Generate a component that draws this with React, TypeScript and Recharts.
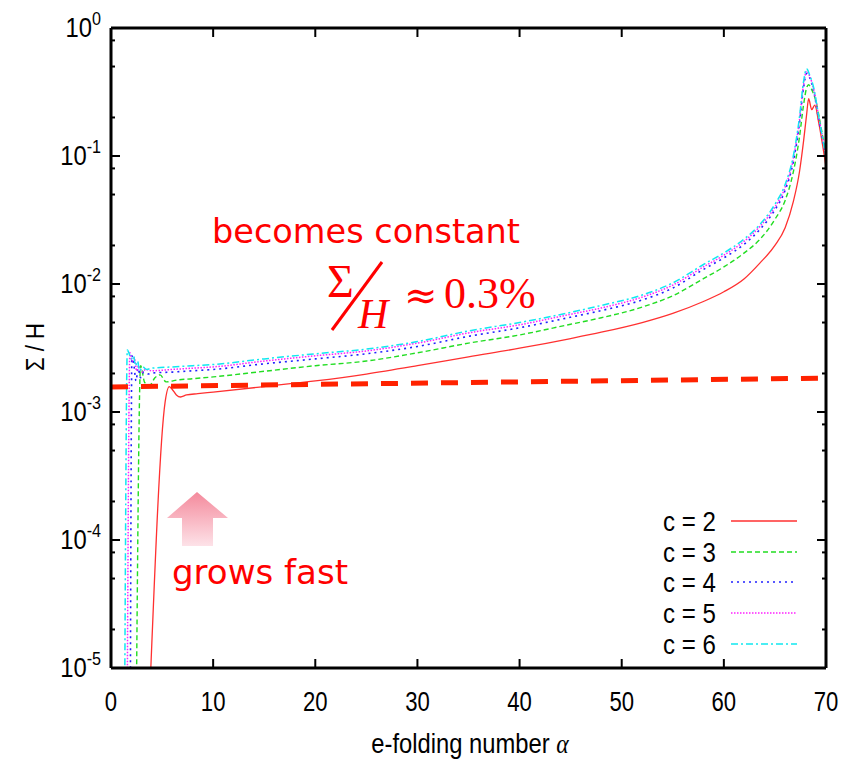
import React from 'react';
import { LineChart, Line, XAxis, YAxis } from 'recharts';

// e-folding number alpha and Sigma/H for each c
const c2Alpha = [3.85, 5.3, 5.7, 6.0, 6.4, 6.8, 7.4, 8.5, 10, 15, 20, 25, 30, 35, 40, 45, 48, 52, 55, 58, 60, 62, 63.5, 65, 66, 66.8, 67.4, 67.8, 68.1, 68.3, 68.6, 68.9, 69.3, 70];
const c2Value = [8e-6, 1.2e-3, 1.58e-3, 1.5e-3, 1.36e-3, 1.31e-3, 1.36e-3, 1.39e-3, 1.43e-3, 1.58e-3, 1.75e-3, 1.98e-3, 2.3e-3, 2.7e-3, 3.15e-3, 3.75e-3, 4.2e-3, 5.0e-3, 5.9e-3, 7.3e-3, 8.7e-3, 1.1e-2, 1.45e-2, 2.0e-2, 2.75e-2, 4.4e-2, 7.5e-2, 0.13, 0.21, 0.28, 0.23, 0.25, 0.18, 0.082];

const c3Alpha = [2.5, 2.9, 3.3, 3.8, 4.3, 4.8, 5.4, 6.5, 8, 10, 15, 20, 25, 30, 35, 40, 45, 48, 52, 55, 58, 60, 62, 63.5, 65, 66, 66.8, 67.4, 67.8, 68.1, 68.3, 68.6, 69.0, 69.5, 70];
const c3Value = [8e-6, 2.3e-3, 1.7e-3, 1.62e-3, 1.85e-3, 1.95e-3, 1.72e-3, 1.78e-3, 1.82e-3, 1.88e-3, 2.08e-3, 2.3e-3, 2.5e-3, 2.9e-3, 3.45e-3, 4.0e-3, 4.85e-3, 5.45e-3, 6.6e-3, 8.1e-3, 1.1e-2, 1.36e-2, 1.75e-2, 2.22e-2, 3.2e-2, 4.5e-2, 7.5e-2, 0.14, 0.25, 0.34, 0.36, 0.33, 0.27, 0.17, 0.1];

const c4Alpha = [1.9, 2.05, 2.25, 2.45, 2.65, 2.9, 3.2, 3.6, 4.2, 6, 8, 10, 15, 20, 25, 30, 35, 40, 45, 48, 52, 55, 58, 60, 62, 63.5, 65, 66, 66.8, 67.4, 67.8, 68.1, 68.4, 68.8, 69.3, 70];
const c4Value = [8e-6, 2.75e-3, 2.3e-3, 1.75e-3, 2.2e-3, 1.85e-3, 2.05e-3, 1.98e-3, 2.02e-3, 2.05e-3, 2.1e-3, 2.15e-3, 2.38e-3, 2.6e-3, 2.85e-3, 3.25e-3, 3.9e-3, 4.55e-3, 5.5e-3, 6.2e-3, 7.5e-3, 9.3e-3, 1.3e-2, 1.6e-2, 2.05e-2, 2.65e-2, 3.8e-2, 5.4e-2, 0.09, 0.18, 0.34, 0.44, 0.41, 0.32, 0.19, 0.1];

const c5Alpha = [1.6, 1.85, 2.05, 2.3, 2.5, 2.7, 3.0, 3.4, 4.0, 6, 8, 10, 15, 20, 25, 30, 35, 40, 45, 48, 52, 55, 58, 60, 62, 63.5, 65, 66, 66.8, 67.4, 67.8, 68.1, 68.4, 68.8, 69.3, 70];
const c5Value = [8e-6, 2.9e-3, 2.5e-3, 2.65e-3, 2.1e-3, 2.3e-3, 2.05e-3, 2.15e-3, 2.1e-3, 2.15e-3, 2.2e-3, 2.25e-3, 2.5e-3, 2.75e-3, 3.0e-3, 3.45e-3, 4.15e-3, 4.8e-3, 5.8e-3, 6.5e-3, 7.9e-3, 9.8e-3, 1.36e-2, 1.68e-2, 2.16e-2, 2.8e-2, 4.0e-2, 5.7e-2, 0.095, 0.19, 0.36, 0.46, 0.42, 0.33, 0.2, 0.1];

const c6Alpha = [1.35, 1.6, 1.75, 2.0, 2.2, 2.4, 2.6, 2.8, 3.1, 3.5, 4.0, 6, 8, 10, 15, 20, 25, 30, 35, 40, 45, 48, 52, 55, 58, 60, 62, 63.5, 65, 66, 66.8, 67.4, 67.8, 68.1, 68.4, 68.8, 69.3, 70];
const c6Value = [8e-6, 3.05e-3, 2.9e-3, 2.6e-3, 2.75e-3, 2.3e-3, 2.5e-3, 2.1e-3, 2.25e-3, 2.15e-3, 2.2e-3, 2.25e-3, 2.3e-3, 2.35e-3, 2.6e-3, 2.85e-3, 3.1e-3, 3.55e-3, 4.3e-3, 5.0e-3, 6.0e-3, 6.8e-3, 8.2e-3, 1.02e-2, 1.42e-2, 1.75e-2, 2.25e-2, 2.9e-2, 4.2e-2, 6.0e-2, 0.1, 0.2, 0.38, 0.48, 0.43, 0.34, 0.2, 0.1];

// the "becomes constant" guide
const constAlpha = [0, 70];
const constValue = [1.57e-3, 1.84e-3];

const xTicks = [0, 10, 20, 30, 40, 50, 60, 70];
const yTicks = [1, 0.8, 0.5, 0.2, 0.1, 0.08, 0.05, 0.02, 0.01, 0.008, 0.005, 0.002, 1e-3, 8e-4, 5e-4, 2e-4, 1e-4, 8e-5, 5e-5, 2e-5, 1e-5];

const toRows = (a: number[], v: number[]) => a.map((x, i) => ({ alpha: x, value: v[i] }));

const series = [
  { label: 'c = 2', data: toRows(c2Alpha, c2Value), color: '#ff3030', dash: undefined, width: 1.3 },
  { label: 'c = 3', data: toRows(c3Alpha, c3Value), color: '#22dd22', dash: '5 3', width: 1.4 },
  { label: 'c = 4', data: toRows(c4Alpha, c4Value), color: '#2020ff', dash: '2 4', width: 1.6 },
  { label: 'c = 5', data: toRows(c5Alpha, c5Value), color: '#ff20ff', dash: '1.5 1.5', width: 1.5 },
  { label: 'c = 6', data: toRows(c6Alpha, c6Value), color: '#10e8f0', dash: '7 3 2 3', width: 1.5 },
];

const FONT = "'Liberation Sans', Arial, sans-serif";

const isMajor = (v: number) => Math.abs(Math.log10(v) - Math.round(Math.log10(v))) < 1e-6;

const BottomTick = ({ x, y, payload }: any) => (
  <g>
    <line x1={x} y1={y} x2={x} y2={y - 9} stroke="#000" strokeWidth={2} />
    <text transform={`translate(${x},${y + 43}) scale(0.82,1)`} textAnchor="middle" fontFamily={FONT} fontSize={27} fill="#000">
      {payload.value}
    </text>
  </g>
);

const TopTick = ({ x, y }: any) => (
  <line x1={x} y1={y} x2={x} y2={y + 9} stroke="#000" strokeWidth={2} />
);

const LeftTick = ({ x, y, payload }: any) => {
  const v = payload.value;
  const major = isMajor(v);
  const exp = Math.round(Math.log10(v));
  return (
    <g>
      <line x1={x} y1={y} x2={x + (major ? 9 : 4)} y2={y} stroke="#000" strokeWidth={2} />
      {major && (
        <text transform={`translate(${x - 10},${y + 9}) scale(0.85,1)`} textAnchor="end" fontFamily={FONT} fontSize={28} fill="#000">
          10<tspan dy={-12} fontSize={19}>{exp}</tspan>
        </text>
      )}
    </g>
  );
};

const RightTick = ({ x, y, payload }: any) => {
  const major = isMajor(payload.value);
  return <line x1={x} y1={y} x2={x - (major ? 9 : 4)} y2={y} stroke="#000" strokeWidth={2} />;
};

const legendRows = [521, 552, 582, 613, 644];

const Overlay = () => (
  <svg width={850} height={764} style={{ position: 'absolute', left: 0, top: 0, pointerEvents: 'none' }}>
    <defs>
      <linearGradient id="arrowFill" x1="0" y1="0" x2="0" y2="1">
        <stop offset="0%" stopColor="#f48a9c" />
        <stop offset="100%" stopColor="#fde2e8" />
      </linearGradient>
    </defs>
    {/* axis titles */}
    <text transform="translate(44,347) rotate(-90) scale(0.85,1)" textAnchor="middle" fontFamily={FONT} fontSize={26} fill="#000">
      Σ / H
    </text>
    <text transform="translate(470,753) scale(0.88,1)" textAnchor="middle" fontFamily={FONT} fontSize={27} fill="#000">
      e-folding number <tspan fontFamily="'Liberation Serif', serif" fontStyle="italic">α</tspan>
    </text>

    {/* legend */}
    {series.map((s, i) => (
      <g key={s.label}>
        <text transform={`translate(716,${legendRows[i] + 10}) scale(0.86,1)`} textAnchor="end" fontFamily={FONT} fontSize={28} fill="#000">
          {s.label}
        </text>
        <line x1={731} y1={legendRows[i]} x2={797} y2={legendRows[i]} stroke={s.color} strokeWidth={s.width} strokeDasharray={s.dash} />
      </g>
    ))}

    {/* annotations */}
    <text x={212} y={243} fontFamily="'DejaVu Sans', Verdana, sans-serif" fontSize={33} fill="#ff0000" textLength={308} lengthAdjust="spacingAndGlyphs">
      becomes constant
    </text>
    <text x={327} y={297} fontFamily="'Liberation Serif', serif" fontSize={46} fill="#ff0000">Σ</text>
    <line x1={332} y1={330} x2={382} y2={262} stroke="#ff0000" strokeWidth={3} />
    <text x={358} y={328} fontFamily="'Liberation Serif', serif" fontStyle="italic" fontSize={42} fill="#ff0000">H</text>
    <text x={404} y={309} fontFamily="'DejaVu Serif', serif" fontSize={40} fill="#ff0000">≈</text>
    <text x={444} y={308} fontFamily="'Liberation Serif', serif" fontSize={44} fill="#ff0000">0.3%</text>

    <polygon points="197,492 228,518 213,518 213,546 182,546 182,518 167,518" fill="url(#arrowFill)" />
    <text x={172} y={584} fontFamily="'DejaVu Sans', Verdana, sans-serif" fontSize={33} fill="#ff0000" textLength={176} lengthAdjust="spacingAndGlyphs">
      grows fast
    </text>
  </svg>
);

export default function App() {
  return (
    <div style={{ position: 'absolute', left: 0, top: 0, width: 850, height: 764, background: '#fff' }}>
      <LineChart width={850} height={764} margin={{ top: 27, right: 23, bottom: 36, left: 31 }}>
        <XAxis
          dataKey="alpha"
          type="number"
          domain={[0, 70]}
          ticks={xTicks}
          interval={0}
          allowDataOverflow
          height={60}
          tickSize={0}
          tickMargin={0}
          tick={BottomTick}
          axisLine={{ stroke: '#000', strokeWidth: 3 }}
        />
        <XAxis
          xAxisId="top"
          orientation="top"
          dataKey="alpha"
          type="number"
          domain={[0, 70]}
          ticks={xTicks}
          interval={0}
          allowDataOverflow
          height={1}
          tickSize={0}
          tickMargin={0}
          tick={TopTick}
          axisLine={{ stroke: '#000', strokeWidth: 3 }}
        />
        <YAxis
          scale="log"
          type="number"
          domain={[1e-5, 1]}
          ticks={yTicks}
          interval={0}
          allowDataOverflow
          width={80}
          tickSize={0}
          tickMargin={0}
          tick={LeftTick}
          axisLine={{ stroke: '#000', strokeWidth: 3 }}
        />
        <YAxis
          yAxisId="right"
          orientation="right"
          scale="log"
          type="number"
          domain={[1e-5, 1]}
          ticks={yTicks}
          interval={0}
          allowDataOverflow
          width={1}
          tickSize={0}
          tickMargin={0}
          tick={RightTick}
          axisLine={{ stroke: '#000', strokeWidth: 3 }}
        />
        {series.map((s) => (
          <Line
            key={s.label}
            data={s.data}
            dataKey="value"
            type="monotone"
            stroke={s.color}
            strokeWidth={s.width}
            strokeDasharray={s.dash}
            dot={false}
            activeDot={false}
            isAnimationActive={false}
          />
        ))}
        <Line
          xAxisId="top"
          yAxisId="right"
          data={toRows(constAlpha, constValue)}
          dataKey="value"
          type="linear"
          stroke="#ff2200"
          strokeWidth={5}
          strokeDasharray="17 13"
          dot={false}
          activeDot={false}
          isAnimationActive={false}
        />
      </LineChart>
      <Overlay />
    </div>
  );
}
